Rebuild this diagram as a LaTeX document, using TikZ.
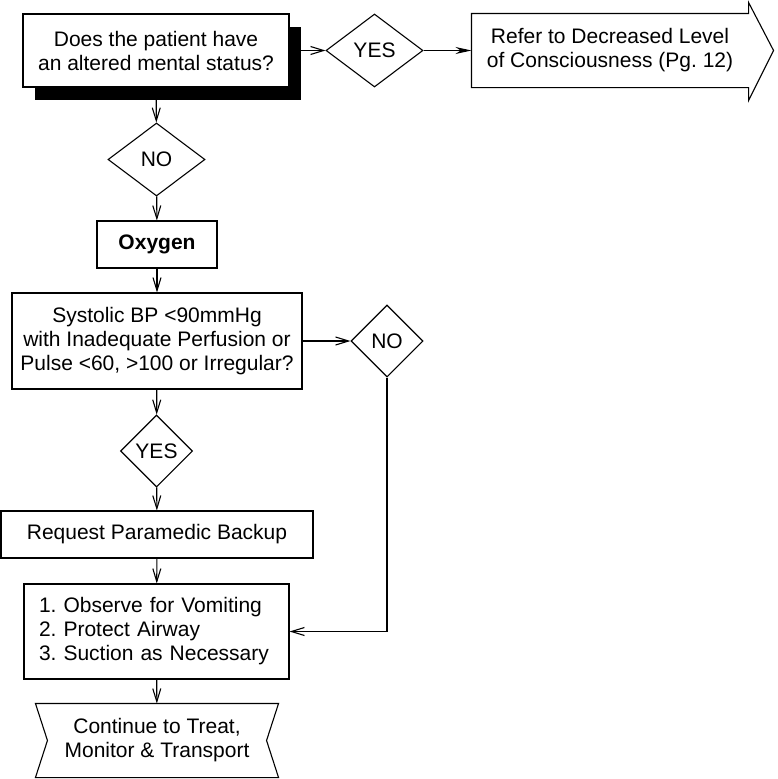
\documentclass[tikz,border=0pt]{standalone}
\usepackage{fontspec}
\setmainfont{Liberation Sans}
\frenchspacing
\usetikzlibrary{shapes.geometric,arrows.meta,shadows,calc}

\begin{document}
\begin{tikzpicture}[x=1pt, y=-1pt, line width=1.1pt,
	every node/.style={font=\fontsize{21}{24}\selectfont, align=center, inner sep=0pt},
	box/.style={draw, rectangle, fill=white},
	choice/.style={draw, diamond},
	flow/.style={-{Straight Barb[length=13pt,width=8pt]}}]
	\useasboundingbox (0,0) rectangle (778,779);

	\node[box, minimum width=266, minimum height=73,
		general shadow={fill=black, shadow xshift=12pt, shadow yshift=-13pt}](Q)
		at (156,50.5){Does the patient have\\an altered mental status?};
	\node[choice, minimum width=97, minimum height=73](Y1) at (374.5,50.5){YES};
	\node[minimum width=276, minimum height=73](R) at (610,50.5){Refer to Decreased Level\\of Consciousness (Pg. 12)};
	\draw (R.south west) -- (R.north west) -- (R.north east) -- ($(R.north east)+(0,-11)$)
		-- ($(R.east)+(25,0)$) -- ($(R.south east)+(0,13)$) -- (R.south east) -- cycle;

	\node[choice, minimum width=97, minimum height=73](N1) at (156.5,159.5){NO};
	\node[box, minimum width=120, minimum height=47](O) at (157,244.5){\bfseries Oxygen};
	\node[box, minimum width=290, minimum height=96](S) at (157,341)
		{Systolic BP <90mmHg\\with Inadequate Perfusion or\\Pulse <60, >100 or Irregular?};
	\node[choice, minimum width=72, minimum height=72](N2) at (387,341){NO};
	\node[choice, minimum width=72, minimum height=72](Y2) at (156.5,451){YES};
	\node[box, minimum width=312, minimum height=47](P) at (157,534.5){Request Paramedic Backup};
	\node[box, minimum width=265, minimum height=95, text width=235, align=left](V) at (156.5,631.5)
		{1. Observe for Vomiting\\2. Protect Airway\\3. Suction as Necessary};
	\node[minimum width=242, minimum height=73](C) at (157,740.5){Continue to Treat,\\Monitor \& Transport};
	\draw (C.north west) -- (C.north east) -- ($(C.east)+(-12,0)$) -- (C.south east)
		-- (C.south west) -- ($(C.west)+(12,0)$) -- cycle;

	\draw[flow] (Q) -- (Y1);
	\draw[-{Stealth[length=16pt,width=7pt]}] (Y1) -- (R);
	\draw[flow] (Q) -- (N1);
	\draw[flow] (N1) -- (O);
	\draw[flow] (O) -- (S);
	\draw[flow] (S) -- (N2);
	\draw[flow] (S) -- (Y2);
	\draw[flow] (Y2) -- (P);
	\draw[flow] (P) -- (V);
	\draw[flow] (N2.south) |- (V.east);
	\draw[flow] (V) -- (C);
\end{tikzpicture}
\end{document}
